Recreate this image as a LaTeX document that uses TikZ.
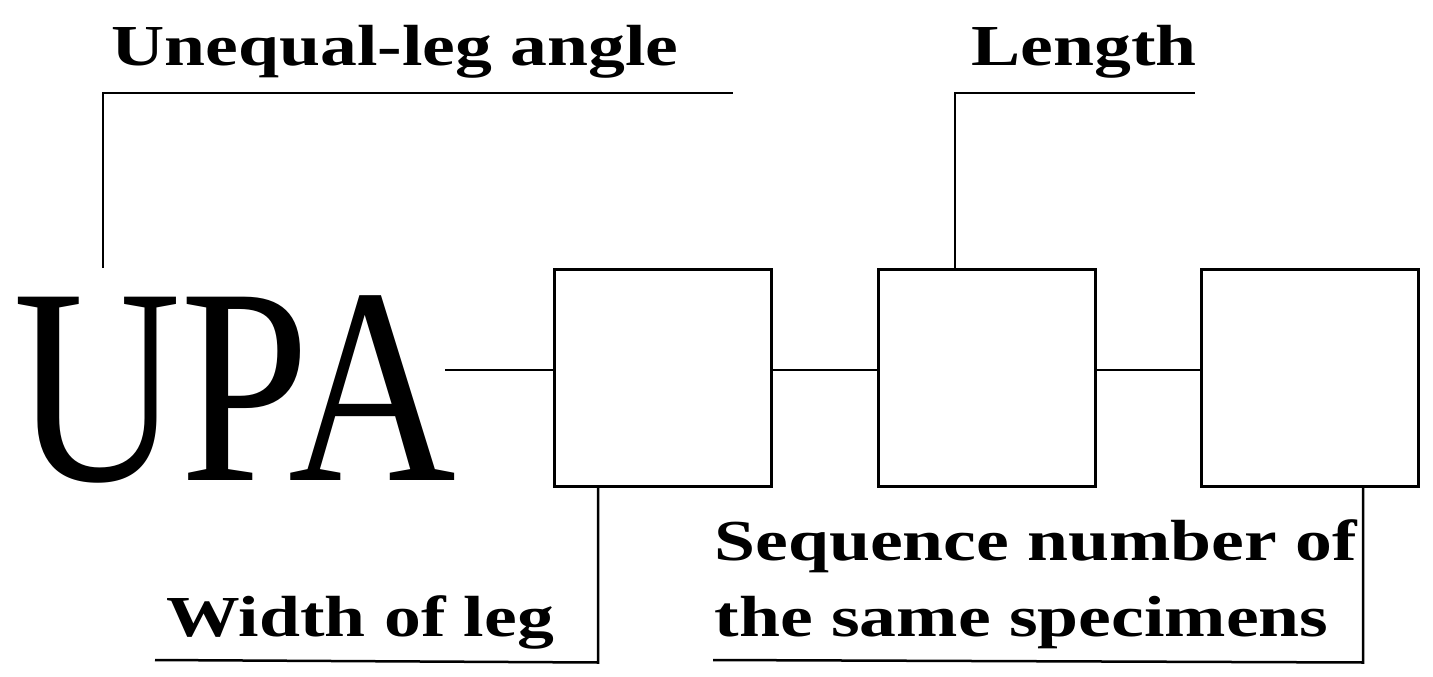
\documentclass[tikz,border=0pt]{standalone}
\usepackage{fontspec}
\setmainfont{Liberation Serif}
\begin{document}
\begin{tikzpicture}[x=1pt,y=-1pt,line width=2.5pt,
 lbl/.style={anchor=base west,inner sep=0pt,xscale=1.27,font=\fontsize{58}{70}\selectfont\bfseries},
 box/.style={draw,minimum width=217pt,minimum height=217pt,inner sep=0pt,anchor=north west}]
\useasboundingbox (0,0) rectangle (1433,677);
\node[lbl] (t1) at (110,66) {Unequal-leg angle};
\node[lbl] (t2) at (970,66) {Length};
\node[lbl] (t3) at (165,636) {Width of leg};
\node[lbl] (t4) at (713,560) {Sequence number of};
\node[lbl] (t5) at (713,636) {the same specimens};
\node[anchor=base west,inner sep=0pt,xscale=0.83,font=\fontsize{280}{300}\selectfont] (upa) at (12,480) {UPA};
\node[box] (b1) at (553,268) {};
\node[box] (b2) at (877,268) {};
\node[box] (b3) at (1200,268) {};
\coordinate (u) at (445,370);
\draw (u) -- (u -| b1.west);
\draw (u -| b1.east) -- (u -| b2.west);
\draw (u -| b2.east) -- (u -| b3.west);
\draw (103,268) -- (103,93) -- (733,93);
\draw (b2.north west)++(78,0) -- ++(0,-175) -- (1195,93);
\draw (b1.south west)++(45,0) -- ++(0,175) -- (155,660);
\draw (b3.south west)++(163,0) -- ++(0,175) -- (713,660);
\end{tikzpicture}
\end{document}
